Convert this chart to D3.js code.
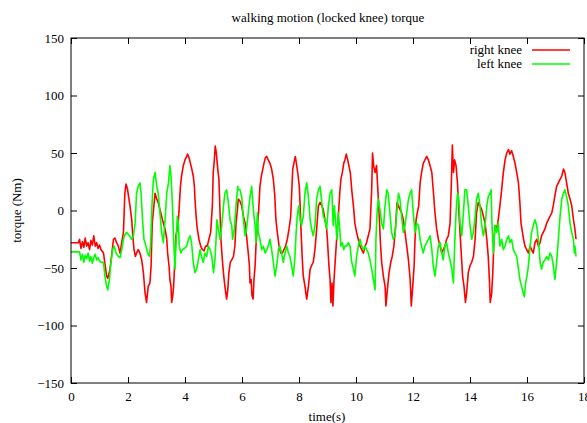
<!DOCTYPE html>
<html>
<head>
<meta charset="utf-8">
<script src="https://cdn.jsdelivr.net/npm/d3@7/dist/d3.min.js"></script>
<style>
  body { margin: 0; background: #fff; }
  svg text { font-family: "Liberation Serif", "Times New Roman", serif; }
</style>
</head>
<body>
<div id="chart"></div>
<script>
"use strict";

var title = "walking motion (locked knee) torque",
    xTitle = "time(s)",
    yTitle = "torque (Nm)",
    seriesNames = ["right knee", "left knee"],
    seriesColors = ["#ff0000", "#00ff00"],
    xTicks = [0, 2, 4, 6, 8, 10, 12, 14, 16, 18],
    yTicks = [-150, -100, -50, 0, 50, 100, 150];

// [time (s), torque (Nm)]
var rightKnee = [
  [0,-28],[0.1,-28],[0.2,-28],[0.26,-28],[0.3,-25],[0.35,-33],[0.4,-27],[0.45,-32],[0.5,-24],[0.55,-31],
  [0.6,-28],[0.65,-34],[0.7,-26],[0.75,-30],[0.8,-22],[0.85,-31],[0.9,-28],[0.95,-33],[1.0,-30],[1.05,-34],
  [1.14,-37],[1.25,-57],[1.29,-59],[1.37,-51],[1.49,-25],[1.54,-24],[1.60,-28],[1.66,-31],[1.72,-37],[1.78,-28],
  [1.84,-19],[1.89,15],[1.93,23],[1.98,19],[2.02,12],[2.07,4],[2.13,-8],[2.16,-19],[2.21,-34],[2.26,-40],
  [2.30,-37],[2.36,-34],[2.42,-37],[2.48,-43],[2.54,-54],[2.60,-72],[2.65,-80],[2.71,-66],[2.77,-63],[2.81,-48],
  [2.85,-11],[2.95,15],[3.01,10],[3.06,7],[3.12,1],[3.18,-5],[3.24,-11],[3.30,-16],[3.36,-25],[3.39,-37],
  [3.44,-48],[3.47,-60],[3.51,-66],[3.53,-80],[3.57,-74],[3.60,-66],[3.65,-40],[3.68,-22],[3.73,-16],[3.77,-8],
  [3.80,4],[3.84,21],[3.88,30],[3.94,39],[4.00,44],[4.06,47],[4.09,49],[4.14,46],[4.19,41],[4.23,37],
  [4.29,30],[4.33,21],[4.35,10],[4.39,-5],[4.43,-16],[4.49,-25],[4.55,-31],[4.61,-34],[4.67,-35],[4.72,-31],
  [4.78,-31],[4.84,-25],[4.90,-19],[4.96,4],[4.99,33],[5.03,44],[5.06,56],[5.10,50],[5.15,36],[5.19,27],
  [5.23,-2],[5.26,-25],[5.31,-43],[5.36,-57],[5.40,-66],[5.46,-77],[5.50,-69],[5.54,-54],[5.59,-45],[5.64,-43],
  [5.70,-40],[5.75,-31],[5.79,-11],[5.84,1],[5.87,10],[5.93,8],[5.99,4],[6.05,-5],[6.11,-11],[6.16,-22],
  [6.22,-37],[6.26,-48],[6.28,-63],[6.32,-60],[6.35,-74],[6.39,-77],[6.42,-60],[6.46,-48],[6.49,-31],[6.54,-13],
  [6.58,-2],[6.63,21],[6.68,30],[6.73,36],[6.77,41],[6.82,46],[6.87,47],[6.92,44],[6.98,41],[7.04,36],
  [7.10,27],[7.15,13],[7.19,-8],[7.24,-19],[7.30,-31],[7.36,-37],[7.42,-37],[7.47,-34],[7.53,-31],[7.59,-25],
  [7.65,-16],[7.71,-5],[7.74,13],[7.78,36],[7.82,41],[7.87,47],[7.92,39],[7.97,30],[8.01,21],[8.04,4],
  [8.07,-16],[8.11,-40],[8.15,-57],[8.21,-66],[8.27,-77],[8.33,-66],[8.39,-51],[8.44,-48],[8.50,-45],[8.56,-34],
  [8.62,-16],[8.68,4],[8.74,7],[8.80,4],[8.85,1],[8.91,-8],[8.97,-16],[9.01,-31],[9.05,-48],[9.09,-60],
  [9.12,-80],[9.16,-63],[9.19,-83],[9.23,-60],[9.26,-48],[9.32,-25],[9.38,-5],[9.43,15],[9.47,27],[9.52,33],
  [9.57,41],[9.61,44],[9.66,49],[9.71,44],[9.75,39],[9.80,33],[9.85,18],[9.91,4],[9.96,-11],[10.02,-19],
  [10.08,-25],[10.14,-31],[10.20,-34],[10.26,-37],[10.32,-31],[10.37,-28],[10.43,-22],[10.49,-16],[10.55,18],[10.58,50],
  [10.62,39],[10.67,33],[10.72,39],[10.76,21],[10.81,-2],[10.85,-25],[10.90,-45],[10.96,-57],[11.02,-66],[11.05,-83],
  [11.10,-69],[11.16,-54],[11.22,-45],[11.27,-40],[11.33,-31],[11.39,-13],[11.44,7],[11.49,4],[11.54,1],[11.60,-2],
  [11.66,-8],[11.72,-19],[11.78,-31],[11.84,-43],[11.90,-60],[11.94,-83],[11.99,-66],[12.04,-48],[12.07,-25],[12.11,-8],
  [12.15,-2],[12.20,4],[12.25,24],[12.30,33],[12.36,41],[12.42,44],[12.48,47],[12.54,44],[12.60,39],[12.66,33],
  [12.71,18],[12.77,-2],[12.83,-16],[12.89,-25],[12.95,-31],[13.01,-37],[13.06,-34],[13.12,-31],[13.18,-25],[13.24,-22],
  [13.30,-11],[13.35,27],[13.38,57],[13.42,33],[13.46,44],[13.51,39],[13.56,24],[13.60,4],[13.65,-19],[13.70,-40],
  [13.74,-57],[13.79,-66],[13.84,-80],[13.88,-72],[13.94,-54],[14.00,-48],[14.06,-45],[14.12,-40],[14.18,-25],[14.23,-2],
  [14.29,7],[14.35,4],[14.41,1],[14.47,-5],[14.53,-11],[14.59,-25],[14.64,-40],[14.68,-60],[14.71,-80],[14.76,-72],
  [14.80,-54],[14.84,-25],[14.88,-13],[14.94,-16],[14.99,-8],[15.05,4],[15.11,18],[15.17,33],[15.23,44],[15.29,50],
  [15.35,53],[15.40,49],[15.46,52],[15.52,47],[15.58,41],[15.64,33],[15.70,24],[15.75,7],[15.79,-11],[15.84,-19],
  [15.88,-25],[15.93,-31],[15.99,-34],[16.05,-37],[16.11,-31],[16.16,-34],[16.22,-37],[16.28,-28],[16.34,-25],[16.40,-31],
  [16.46,-28],[16.51,-22],[16.57,-19],[16.63,-16],[16.69,-11],[16.75,-8],[16.81,-5],[16.87,-2],[16.92,4],[16.98,13],
  [17.04,21],[17.10,24],[17.16,27],[17.22,30],[17.28,36],[17.33,33],[17.39,24],[17.45,15],[17.51,10],[17.57,4],
  [17.63,-8],[17.68,-16],[17.72,-25]
];

var leftKnee = [
  [0,-36],[0.1,-36],[0.2,-36],[0.26,-36],[0.3,-36],[0.35,-43],[0.4,-38],[0.45,-45],[0.5,-39],[0.55,-42],
  [0.6,-37],[0.65,-44],[0.7,-40],[0.75,-46],[0.8,-41],[0.85,-38],[0.9,-43],[0.95,-41],[1.0,-44],[1.05,-45],
  [1.14,-45],[1.19,-57],[1.25,-66],[1.29,-69],[1.35,-60],[1.39,-48],[1.46,-34],[1.52,-31],[1.58,-37],[1.66,-40],
  [1.72,-41],[1.78,-34],[1.84,-25],[1.89,-21],[1.95,-19],[2.05,-22],[2.13,-25],[2.19,-22],[2.25,-11],[2.30,15],
  [2.36,21],[2.42,24],[2.46,15],[2.51,-8],[2.56,-25],[2.63,-31],[2.69,-37],[2.75,-40],[2.79,-31],[2.84,4],
  [2.89,27],[2.95,33],[3.01,21],[3.06,15],[3.12,-2],[3.18,-19],[3.24,-28],[3.30,-8],[3.36,15],[3.42,24],
  [3.47,39],[3.51,30],[3.56,4],[3.60,-25],[3.65,-51],[3.68,-31],[3.73,-5],[3.77,-13],[3.80,-31],[3.86,-37],
  [3.91,-34],[3.98,-33],[4.06,-31],[4.12,-25],[4.18,-22],[4.23,-28],[4.29,-45],[4.35,-54],[4.41,-51],[4.47,-43],
  [4.53,-34],[4.58,-40],[4.64,-45],[4.70,-37],[4.76,-40],[4.82,-31],[4.88,-34],[4.94,-40],[5.00,-54],[5.05,-43],
  [5.09,-25],[5.12,-8],[5.17,-16],[5.23,-25],[5.29,-13],[5.35,4],[5.40,15],[5.46,18],[5.52,7],[5.58,-8],
  [5.64,-13],[5.67,-25],[5.73,-16],[5.79,4],[5.85,21],[5.87,18],[5.93,18],[5.99,12],[6.05,-8],[6.11,-22],
  [6.16,-16],[6.22,-2],[6.28,12],[6.34,21],[6.37,10],[6.42,-5],[6.46,-13],[6.49,-28],[6.54,-2],[6.57,-19],
  [6.63,-25],[6.69,-34],[6.75,-31],[6.81,-37],[6.87,-34],[6.92,-31],[6.98,-25],[7.04,-34],[7.10,-45],[7.16,-57],
  [7.22,-48],[7.28,-34],[7.33,-31],[7.39,-37],[7.45,-45],[7.51,-37],[7.57,-31],[7.63,-37],[7.68,-40],[7.74,-48],
  [7.80,-57],[7.85,-43],[7.90,-19],[7.94,-5],[7.99,4],[8.04,-8],[8.09,-13],[8.15,-5],[8.21,15],[8.27,24],
  [8.33,12],[8.39,-8],[8.44,-16],[8.50,-22],[8.56,-13],[8.62,10],[8.68,18],[8.74,21],[8.80,7],[8.85,-5],
  [8.91,-8],[8.97,-16],[9.03,4],[9.09,15],[9.15,18],[9.20,-13],[9.24,4],[9.29,-11],[9.33,-25],[9.38,-2],
  [9.43,-16],[9.47,-31],[9.52,-28],[9.57,-34],[9.61,-31],[9.67,-31],[9.73,-28],[9.79,-31],[9.85,-45],[9.91,-51],
  [9.96,-57],[10.02,-40],[10.08,-31],[10.14,-25],[10.20,-31],[10.26,-34],[10.32,-31],[10.37,-34],[10.43,-37],[10.49,-43],
  [10.55,-51],[10.61,-60],[10.67,-69],[10.70,-25],[10.74,-2],[10.78,10],[10.84,1],[10.90,-11],[10.96,-16],[11.02,4],
  [11.08,18],[11.13,15],[11.19,-2],[11.25,-19],[11.31,-25],[11.37,-22],[11.43,-2],[11.49,15],[11.54,10],[11.60,-5],
  [11.66,-19],[11.72,-13],[11.78,-2],[11.84,10],[11.90,15],[11.95,18],[12.01,-2],[12.07,-19],[12.13,-11],[12.19,-13],
  [12.25,-25],[12.30,-31],[12.36,-37],[12.42,-31],[12.48,-28],[12.54,-25],[12.60,-22],[12.66,-34],[12.71,-48],[12.77,-57],
  [12.83,-45],[12.89,-31],[12.95,-28],[13.01,-37],[13.06,-43],[13.12,-31],[13.18,-28],[13.24,-37],[13.30,-43],[13.36,-51],
  [13.42,-63],[13.46,-31],[13.51,-2],[13.56,15],[13.60,12],[13.65,-11],[13.71,-22],[13.77,-2],[13.82,18],[13.88,18],
  [13.94,4],[14.00,-13],[14.06,-25],[14.12,-19],[14.18,-5],[14.23,10],[14.29,15],[14.35,4],[14.41,-13],[14.47,-22],
  [14.53,-13],[14.59,4],[14.64,12],[14.70,15],[14.74,18],[14.77,-11],[14.82,-37],[14.88,-13],[14.94,-19],[14.99,-11],
  [15.05,-31],[15.11,-25],[15.17,-34],[15.23,-31],[15.29,-25],[15.35,-22],[15.40,-28],[15.46,-25],[15.52,-34],[15.58,-37],
  [15.64,-40],[15.70,-51],[15.75,-60],[15.81,-66],[15.87,-72],[15.91,-75],[15.95,-63],[16.00,-57],[16.05,-48],[16.11,-31],
  [16.16,-19],[16.22,-13],[16.28,-8],[16.34,-13],[16.40,-25],[16.46,-45],[16.51,-51],[16.57,-45],[16.63,-43],[16.69,-40],
  [16.75,-43],[16.81,-37],[16.87,-40],[16.92,-48],[16.98,-60],[17.04,-45],[17.10,-25],[17.16,-5],[17.22,10],[17.28,15],
  [17.33,18],[17.39,12],[17.45,4],[17.51,-11],[17.57,-19],[17.63,-25],[17.66,-37],[17.68,-31],[17.72,-40]
];

var width = 587, height = 423,
    margin = {top: 38, right: 3, bottom: 40, left: 71},
    plotW = width - margin.left - margin.right,
    plotH = height - margin.top - margin.bottom,
    fontSize = 13;

var svg = d3.select("#chart").append("svg")
    .attr("width", width)
    .attr("height", height);

var x = d3.scaleLinear().domain([0, 18]).range([margin.left, margin.left + plotW]);
var y = d3.scaleLinear().domain([-150, 150]).range([margin.top + plotH, margin.top]);

svg.append("defs").append("clipPath").attr("id", "clip")
  .append("rect")
    .attr("x", margin.left).attr("y", margin.top)
    .attr("width", plotW).attr("height", plotH);

var line = d3.line()
    .x(function(d) { return x(d[0]); })
    .y(function(d) { return y(d[1]); });

[rightKnee, leftKnee].forEach(function(s, i) {
    svg.append("path")
        .datum(s)
        .attr("clip-path", "url(#clip)")
        .attr("fill", "none")
        .attr("stroke", seriesColors[i])
        .attr("stroke-width", 1.6)
        .attr("stroke-linejoin", "round")
        .attr("d", line);
});

// axes, gnuplot style: ticks inward, mirrored on top and right
var tick = 6;
svg.append("g")
    .attr("transform", "translate(0," + (margin.top + plotH) + ")")
    .call(d3.axisBottom(x).tickValues(xTicks).tickSizeInner(-tick).tickSizeOuter(0).tickPadding(9));
svg.append("g")
    .attr("transform", "translate(0," + margin.top + ")")
    .call(d3.axisTop(x).tickValues(xTicks).tickSizeInner(-tick).tickSizeOuter(0).tickFormat(""));
svg.append("g")
    .attr("transform", "translate(" + margin.left + ",0)")
    .call(d3.axisLeft(y).tickValues(yTicks).tickSizeInner(-tick).tickSizeOuter(0).tickPadding(7));
svg.append("g")
    .attr("transform", "translate(" + (margin.left + plotW) + ",0)")
    .call(d3.axisRight(y).tickValues(yTicks).tickSizeInner(-tick).tickSizeOuter(0).tickFormat(""));

svg.selectAll(".domain").remove();
svg.selectAll(".tick line").attr("stroke", "#000");
svg.selectAll(".tick text")
    .attr("font-family", "'Liberation Serif', 'Times New Roman', serif")
    .attr("font-size", fontSize)
    .attr("fill", "#000");

svg.append("rect")
    .attr("x", margin.left).attr("y", margin.top)
    .attr("width", plotW).attr("height", plotH)
    .attr("fill", "none").attr("stroke", "#000").attr("stroke-width", 1);

svg.append("text")
    .attr("x", 328).attr("y", 22)
    .attr("text-anchor", "middle")
    .attr("font-size", fontSize)
    .text(title);

svg.append("text")
    .attr("x", 327).attr("y", 421)
    .attr("text-anchor", "middle")
    .attr("font-size", fontSize)
    .text(xTitle);

svg.append("text")
    .attr("transform", "translate(21," + y(0) + ") rotate(-90)")
    .attr("text-anchor", "middle")
    .attr("font-size", fontSize)
    .text(yTitle);

// legend
var legend = svg.append("g");
seriesNames.forEach(function(name, i) {
    var ly = 50 + i * 14;
    legend.append("text")
        .attr("x", 522).attr("y", ly + 4)
        .attr("text-anchor", "end")
        .attr("font-size", fontSize)
        .text(name);
    legend.append("line")
        .attr("x1", 532).attr("x2", 570)
        .attr("y1", ly).attr("y2", ly)
        .attr("stroke", seriesColors[i])
        .attr("stroke-width", 1.3);
});
</script>
</body>
</html>
